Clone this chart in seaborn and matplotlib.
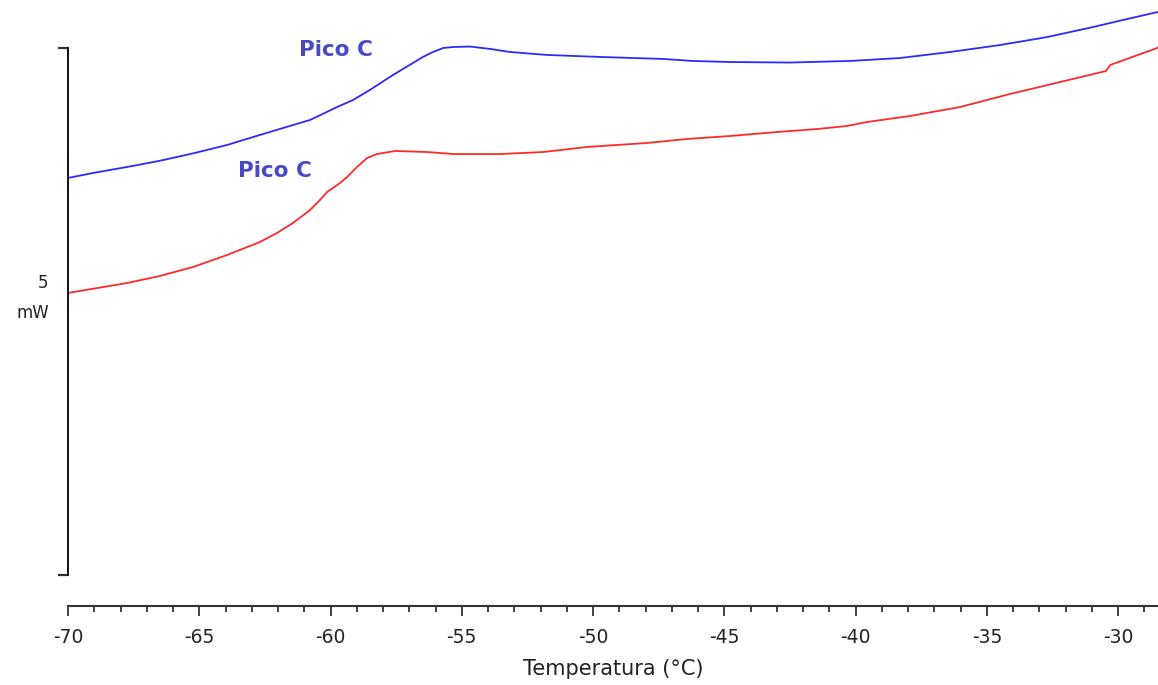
import matplotlib
matplotlib.use("Agg")
import matplotlib.pyplot as plt
from matplotlib.ticker import MultipleLocator
import seaborn as sns
import pandas as pd

# DSC heat-flow traces (temperature in °C, heat flow in mW, offset baseline)
temp_blue = [-70.00, -69.05, -67.75, -66.50, -65.24, -63.94, -62.69, -61.43, -60.78,
             -59.75, -59.14, -58.50, -57.62, -56.86, -56.48, -56.10, -55.71, -55.33,
             -54.69, -53.92, -53.16, -51.75, -49.73, -47.33, -46.19, -44.78, -42.50,
             -40.21, -38.30, -36.40, -34.50, -32.70, -30.95, -29.81, -28.48]
flow_blue = [3.767, 3.814, 3.871, 3.930, 4.000, 4.080, 4.175, 4.269, 4.317,
             4.440, 4.507, 4.602, 4.744, 4.858, 4.915, 4.962, 5.000, 5.009,
             5.014, 4.991, 4.962, 4.934, 4.915, 4.896, 4.877, 4.867, 4.862,
             4.877, 4.905, 4.962, 5.028, 5.104, 5.199, 5.266, 5.342]

temp_red = [-70.00, -67.75, -66.50, -65.24, -63.94, -62.69, -62.04, -61.43, -60.78,
            -60.40, -60.13, -59.64, -59.37, -58.99, -58.61, -58.23, -57.54, -56.32,
            -55.33, -53.54, -51.90, -50.23, -47.94, -46.42, -44.78, -42.99, -41.47,
            -40.32, -39.56, -37.92, -36.02, -34.11, -32.21, -30.46, -30.30, -28.51,
            -28.48]
flow_red = [2.676, 2.770, 2.837, 2.922, 3.036, 3.159, 3.245, 3.340, 3.463,
            3.558, 3.634, 3.719, 3.776, 3.871, 3.956, 3.994, 4.023, 4.013,
            3.994, 3.994, 4.013, 4.061, 4.099, 4.137, 4.165, 4.203, 4.231,
            4.260, 4.298, 4.355, 4.440, 4.564, 4.677, 4.782, 4.839, 5.000,
            5.009]

x_ticks = [-70, -65, -60, -55, -50, -45, -40, -35, -30]
x_tick_labels = ["-70", "-65", "-60", "-55", "-50", "-45", "-40", "-35", "-30"]
scale_bar = [0, 5]          # mW span of the vertical scale bar
peak_labels = ["Pico C", "Pico C"]
peak_label_pos = [(-59.79, 4.98), (-62.11, 3.835)]

sns.set_theme(style="white")
plt.rcParams["font.family"] = ["DejaVu Sans"]
plt.rcParams["axes.unicode_minus"] = False

fig = plt.figure(figsize=(11.58, 6.85), dpi=100)
ax = fig.add_axes([68 / 1158, 79 / 685, 1 - 68 / 1158, 606 / 685])

df_blue = pd.DataFrame({"T": temp_blue, "Q": flow_blue})
df_red = pd.DataFrame({"T": temp_red, "Q": flow_red})
sns.lineplot(data=df_red, x="T", y="Q", ax=ax, color="#ff2a2a", linewidth=1.3,
             sort=False, estimator=None)
sns.lineplot(data=df_blue, x="T", y="Q", ax=ax, color="#2a2aff", linewidth=1.3,
             sort=False, estimator=None)

ax.set_xlim(-70, -28.48)
ax.set_ylim(-0.2941, 5.4554)

# bottom temperature axis
ax.spines["top"].set_visible(False)
ax.spines["right"].set_visible(False)
ax.spines["bottom"].set_color("#333333")
ax.spines["bottom"].set_linewidth(1.5)
ax.set_xticks(x_ticks)
ax.set_xticklabels(x_tick_labels, fontsize=13.5, color="#222222")
ax.xaxis.set_minor_locator(MultipleLocator(1))
ax.tick_params(axis="x", which="major", direction="out", length=7.5, width=1.3,
               color="#333333", pad=8, bottom=True)
ax.tick_params(axis="x", which="minor", direction="out", length=4.5, width=1.3,
               color="#333333", bottom=True)
ax.set_xlabel("Temperatura (°C)", fontsize=15, color="#222222", labelpad=9)

# left spine used as the heat-flow scale bar
ax.spines["left"].set_bounds(scale_bar[0], scale_bar[1])
ax.spines["left"].set_color("#111111")
ax.spines["left"].set_linewidth(1.4)
ax.set_yticks(scale_bar)
ax.set_yticklabels([])
ax.tick_params(axis="y", direction="out", length=7, width=1.6, color="#333333",
               left=True, pad=2)
ax.set_ylabel("")
ax.text(-70.95, 2.77, "5", fontsize=12, ha="center", va="center", color="#222222")
ax.text(-71.33, 2.49, "mW", fontsize=12, ha="center", va="center", color="#222222")

for label, (tx, ty) in zip(peak_labels, peak_label_pos):
    ax.text(tx, ty, label, fontsize=15.5, fontweight="bold", color="#4848c8",
            ha="center", va="center")

ax.grid(False)
fig.savefig("out.png", dpi=100)
